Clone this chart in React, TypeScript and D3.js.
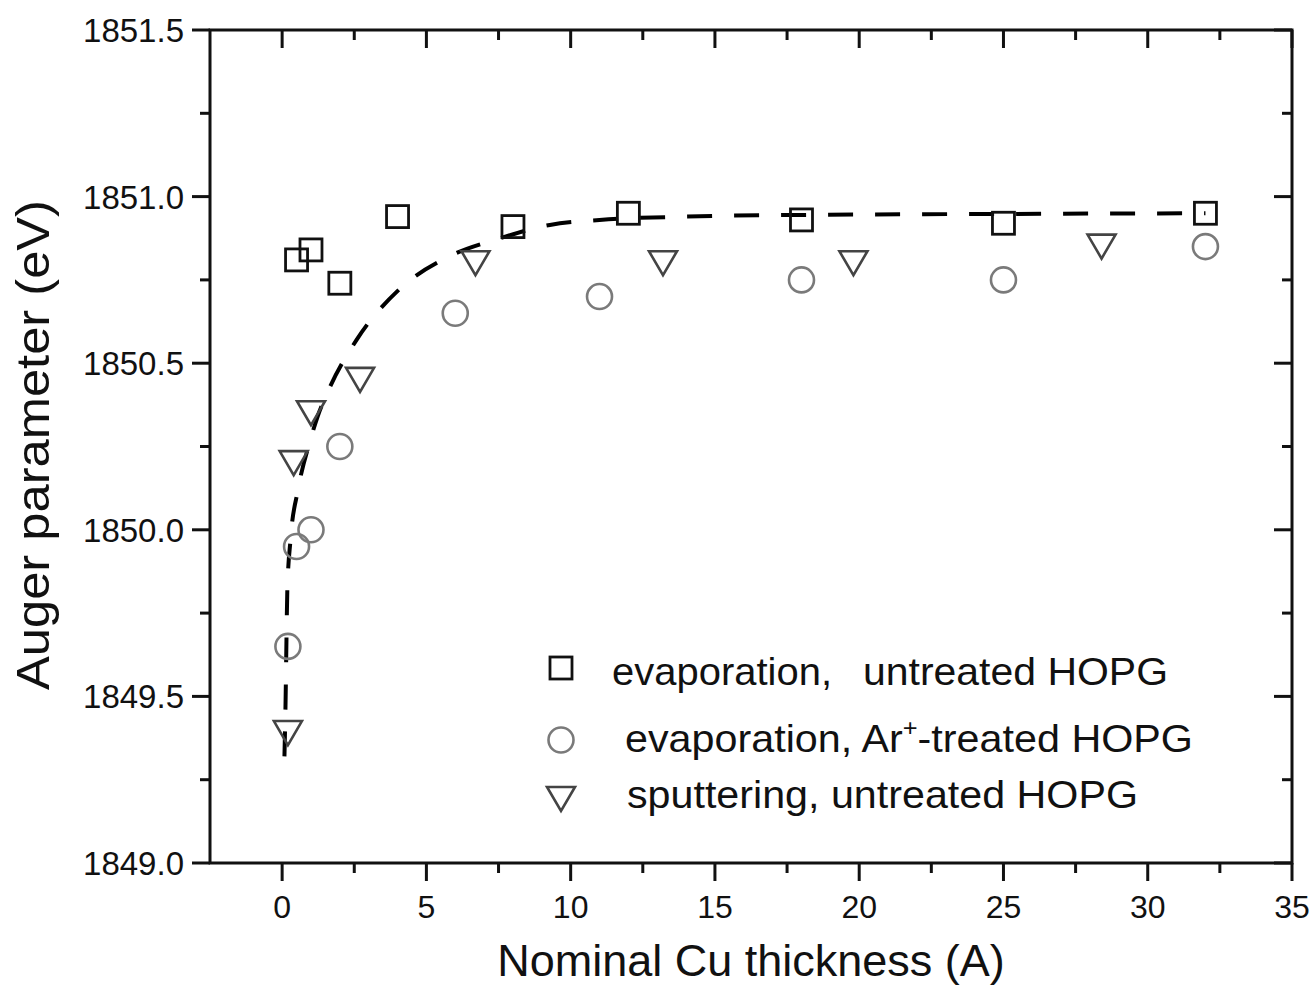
import React from "react";
import * as d3 from "d3";

// ---- data ----
const squareX = [0.5, 1, 2, 4, 8, 12, 18, 25, 32];
const squareY = [1850.81, 1850.84, 1850.74, 1850.94, 1850.91, 1850.95, 1850.93, 1850.92, 1850.95];

const circleX = [0.2, 0.5, 1, 2, 6, 11, 18, 25, 32];
const circleY = [1849.65, 1849.95, 1850.0, 1850.25, 1850.65, 1850.7, 1850.75, 1850.75, 1850.85];

const triangleX = [0.2, 0.4, 1, 2.7, 6.7, 13.2, 19.8, 28.4];
const triangleY = [1849.39, 1850.2, 1850.35, 1850.45, 1850.8, 1850.8, 1850.8, 1850.85];

const fitX = [0.08, 0.12, 0.15, 0.18, 0.29, 0.55, 0.98, 1.23, 1.56, 2.58, 4.04, 5.78, 7.55, 9.28, 11.0, 14, 18, 25, 32];
const fitY = [1849.32, 1849.49, 1849.67, 1849.82, 1849.97, 1850.12, 1850.27, 1850.34, 1850.41, 1850.57, 1850.72, 1850.82, 1850.875, 1850.915, 1850.93, 1850.94, 1850.945, 1850.948, 1850.95];

const xTicks = [0, 5, 10, 15, 20, 25, 30, 35];
const xMinor = [2.5, 7.5, 12.5, 17.5, 22.5, 27.5, 32.5];
const yTicks = [1849.0, 1849.5, 1850.0, 1850.5, 1851.0, 1851.5];
const yMinor = [1849.25, 1849.75, 1850.25, 1850.75, 1851.25];

const xTitle = "Nominal Cu thickness (A)";
const yTitle = "Auger parameter (eV)";

const FONT = "'Liberation Sans', Arial, Helvetica, sans-serif";

export default function App() {
  const W = 1315, H = 985;
  const left = 210, right = 1292, top = 30, bottom = 863;
  const x = d3.scaleLinear().domain([-2.5, 35]).range([left, right]);
  const y = d3.scaleLinear().domain([1849, 1851.5]).range([bottom, top]);

  const fitPts: [number, number][] = fitX.map((v, i) => [v, fitY[i]]);
  const line = d3
    .line<[number, number]>()
    .x((d) => x(d[0]))
    .y((d) => y(d[1]))
    .curve(d3.curveMonotoneX);

  const sq = 22;
  const cr = 12.5;
  const tw = 28, th = 24;
  const triPath = (cx: number, cy: number) =>
    `M${cx - tw / 2},${cy - th / 2}L${cx + tw / 2},${cy - th / 2}L${cx},${cy + th / 2}Z`;

  const axisW = 3;
  const major = 18, minor = 10;

  return (
    <svg width={W} height={H} style={{ display: "block", position: "absolute", left: 0, top: 0 }} fontFamily={FONT}>
      <rect x={0} y={0} width={W} height={H} fill="#fff" />

      {/* fit curve */}
      <path d={line(fitPts) || ""} fill="none" stroke="#000" strokeWidth={4} strokeDasharray="25 22" />

      {/* circles */}
      {circleX.map((v, i) => (
        <circle key={"c" + i} cx={x(v)} cy={y(circleY[i])} r={cr} fill="none" stroke="#7a7a7a" strokeWidth={2.6} />
      ))}
      {/* triangles */}
      {triangleX.map((v, i) => (
        <path key={"t" + i} d={triPath(x(v), y(triangleY[i]))} fill="none" stroke="#444" strokeWidth={2.6} strokeLinejoin="miter" />
      ))}
      {/* squares */}
      {squareX.map((v, i) => (
        <rect key={"s" + i} x={x(v) - sq / 2} y={y(squareY[i]) - sq / 2} width={sq} height={sq} fill="none" stroke="#111" strokeWidth={2.8} />
      ))}

      {/* frame */}
      <rect x={left} y={top} width={right - left} height={bottom - top} fill="none" stroke="#111" strokeWidth={axisW} />

      {/* x ticks bottom (outward) and top (inward) */}
      {xTicks.map((t) => (
        <g key={"xt" + t}>
          <line x1={x(t)} x2={x(t)} y1={bottom} y2={bottom + major} stroke="#111" strokeWidth={axisW} />
          <line x1={x(t)} x2={x(t)} y1={top} y2={top + major} stroke="#111" strokeWidth={axisW} />
          <text x={x(t)} y={918} fontSize={32} textAnchor="middle" fill="#111">
            {t}
          </text>
        </g>
      ))}
      {xMinor.map((t) => (
        <g key={"xm" + t}>
          <line x1={x(t)} x2={x(t)} y1={bottom} y2={bottom + minor} stroke="#111" strokeWidth={axisW} />
          <line x1={x(t)} x2={x(t)} y1={top} y2={top + minor} stroke="#111" strokeWidth={axisW} />
        </g>
      ))}

      {/* y ticks left (outward) and right (inward) */}
      {yTicks.map((t) => (
        <g key={"yt" + t}>
          <line x1={left - major} x2={left} y1={y(t)} y2={y(t)} stroke="#111" strokeWidth={axisW} />
          <line x1={right - major} x2={right} y1={y(t)} y2={y(t)} stroke="#111" strokeWidth={axisW} />
          <text x={184} y={y(t) + 12} fontSize={33} textAnchor="end" fill="#111">
            {t.toFixed(1)}
          </text>
        </g>
      ))}
      {yMinor.map((t) => (
        <g key={"ym" + t}>
          <line x1={left - minor} x2={left} y1={y(t)} y2={y(t)} stroke="#111" strokeWidth={axisW} />
          <line x1={right - minor} x2={right} y1={y(t)} y2={y(t)} stroke="#111" strokeWidth={axisW} />
        </g>
      ))}

      {/* axis titles */}
      <text x={751} y={976} fontSize={45} textAnchor="middle" fill="#111">
        {xTitle}
      </text>
      <text
        transform={`translate(49,445) rotate(-90)`}
        fontSize={47}
        textAnchor="middle"
        textLength={490}
        lengthAdjust="spacingAndGlyphs"
        fill="#111"
      >
        {yTitle}
      </text>

      {/* legend */}
      <rect x={561 - 11} y={668 - 11} width={22} height={22} fill="none" stroke="#111" strokeWidth={2.8} />
      <text x={612} y={685} fontSize={39} fill="#111" textLength={220} lengthAdjust="spacingAndGlyphs">
        evaporation,
      </text>
      <text x={863} y={685} fontSize={39} fill="#111" textLength={305} lengthAdjust="spacingAndGlyphs">
        untreated HOPG
      </text>

      <circle cx={561} cy={740} r={cr} fill="none" stroke="#7a7a7a" strokeWidth={2.6} />
      <text x={625} y={752} fontSize={39} fill="#111" textLength={568} lengthAdjust="spacingAndGlyphs">
        evaporation, Ar<tspan fontSize={24} dy={-16}>+</tspan>
        <tspan dy={16}>-treated HOPG</tspan>
      </text>

      <path d={triPath(561, 799)} fill="none" stroke="#444" strokeWidth={2.6} />
      <text x={627} y={808} fontSize={39} fill="#111" textLength={511} lengthAdjust="spacingAndGlyphs">
        sputtering, untreated HOPG
      </text>
    </svg>
  );
}
